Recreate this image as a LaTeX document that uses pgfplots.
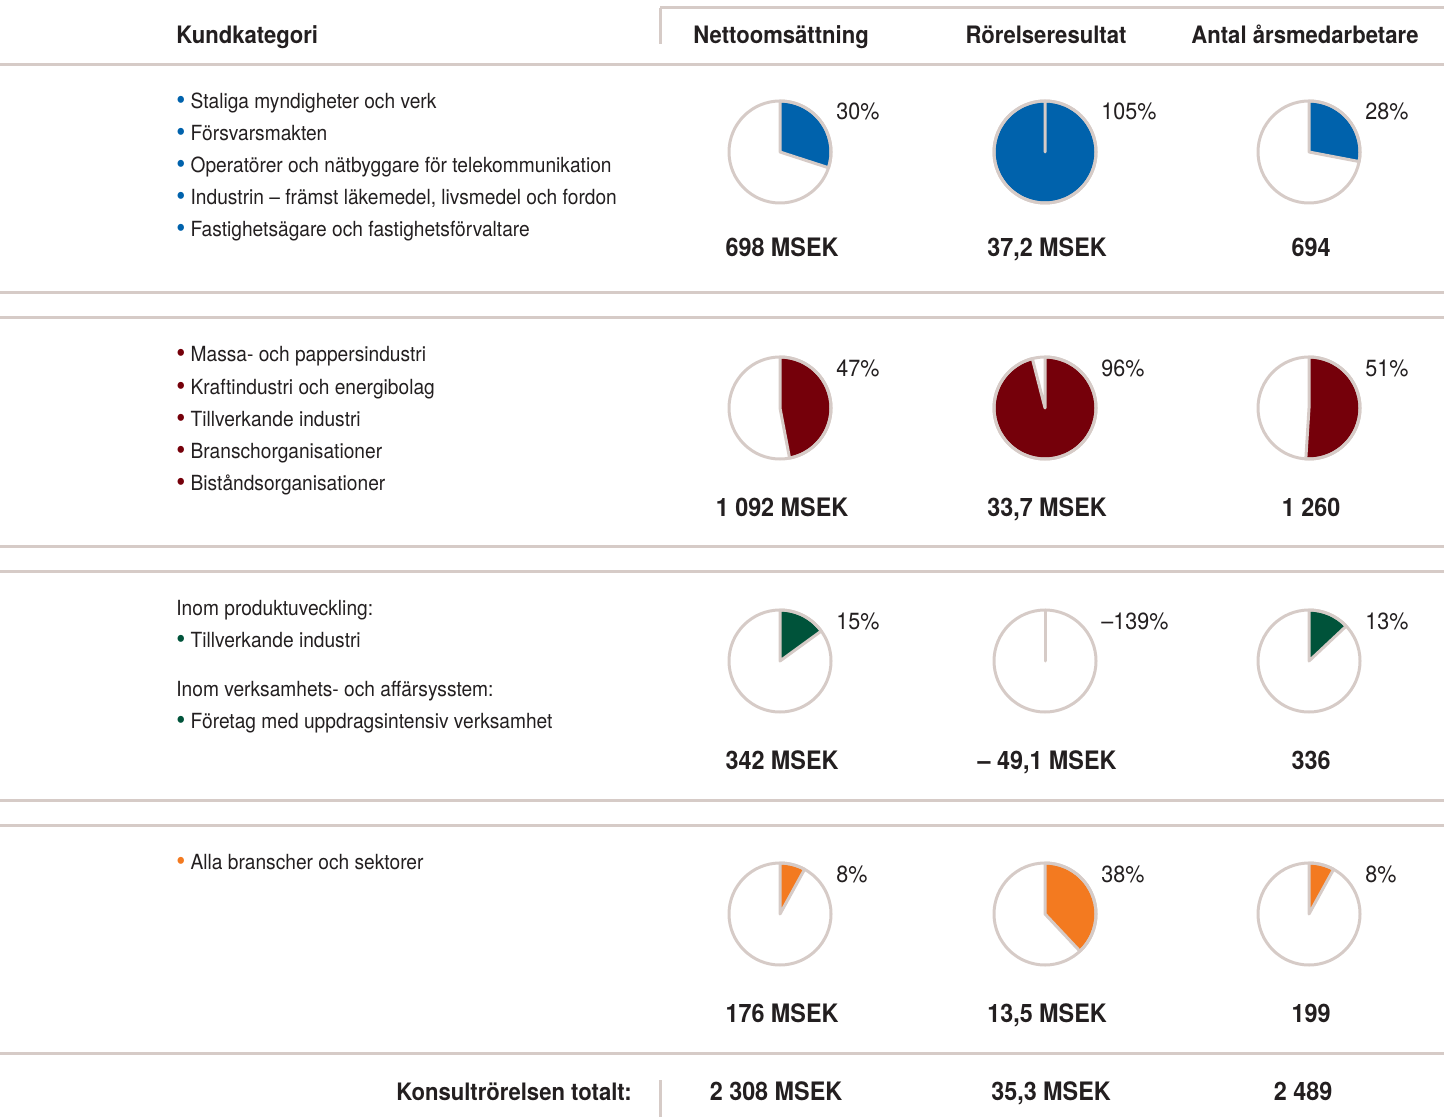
\documentclass[border=0pt]{standalone}
\usepackage{pgfplots}
\pgfplotsset{compat=1.18}
\usepackage{fontspec}
\setmainfont{TeX Gyre Heros}[FakeStretch=0.92]
\definecolor{cblue}{HTML}{0062AC}
\definecolor{cred}{HTML}{75000A}
\definecolor{cgreen}{HTML}{00533A}
\definecolor{corange}{HTML}{F37A20}
\definecolor{cline}{HTML}{D6CBC7}
\definecolor{ctext}{HTML}{231F20}
\def\R{25.5pt}
\newcommand{\txt}{\fontsize{10.42}{12}\selectfont}
\newcommand{\bld}{\fontsize{12}{14}\selectfont\bfseries}
\newcommand{\vbld}{\fontsize{12.7}{14}\selectfont\bfseries}
\newcommand{\pct}{\fontsize{11.7}{13}\selectfont}
\newcommand{\bul}[1]{\raisebox{-0.5pt}{\fontsize{14}{14}\selectfont\textcolor{#1}{•}}\hspace{2.6pt}}
% cx, cy, fraction, colour, pct label, value label, value baseline
\newcommand{\pie}[7]{%
  \fill[#4] (axis cs:#1,#2) -- ++(0pt,\R) arc[start angle=90, delta angle=-360*#3, radius=\R] -- cycle;
  \draw[cline, line width=1.5pt, line join=round] (axis cs:#1,#2) -- ++(0pt,\R) arc[start angle=90, delta angle=-360*#3, radius=\R] -- cycle;
  \draw[cline, line width=1.5pt] (axis cs:#1,#2) circle[radius=\R];
  \node[anchor=base west, inner sep=0pt, text=ctext, font=\pct] at (axis cs:#1+56,#2-32) {#5};
  \node[anchor=base, inner sep=0pt, text=ctext, font=\vbld] at (axis cs:#1+2,#7) {#6};
}
\begin{document}
\begin{tikzpicture}
\begin{axis}[at={(0,0)}, anchor=south west, scale only axis, width=722pt, height=558.5pt,
  xmin=0, xmax=1444, ymin=0, ymax=1117, y dir=reverse, hide axis, clip=false]
% separator lines
\addplot[cline, line width=1.5pt] coordinates {(660,8) (1444,8)};
\addplot[cline, line width=1.5pt] coordinates {(660,8) (660,44)};
\addplot[cline, line width=1.5pt] coordinates {(660,1080) (660,1117)};
\addplot[cline, line width=1.5pt] coordinates {(0,65) (1444,65)};
\addplot[cline, line width=1.5pt] coordinates {(0,293) (1444,293)};
\addplot[cline, line width=1.5pt] coordinates {(0,318) (1444,318)};
\addplot[cline, line width=1.5pt] coordinates {(0,546) (1444,546)};
\addplot[cline, line width=1.5pt] coordinates {(0,571) (1444,571)};
\addplot[cline, line width=1.5pt] coordinates {(0,800) (1444,800)};
\addplot[cline, line width=1.5pt] coordinates {(0,825) (1444,825)};
\addplot[cline, line width=1.5pt] coordinates {(0,1053) (1444,1053)};
% header
\node[anchor=base west, inner sep=0pt, text=ctext, font=\bld] at (axis cs:176,44) {Kundkategori};
\node[anchor=base, inner sep=0pt, text=ctext, font=\bld] at (axis cs:781,44) {Nettoomsättning};
\node[anchor=base, inner sep=0pt, text=ctext, font=\bld] at (axis cs:1046,44) {Rörelseresultat};
\node[anchor=base, inner sep=0pt, text=ctext, font=\bld] at (axis cs:1305,44) {Antal årsmedarbetare};
% section 1
\node[anchor=base west, inner sep=0pt, text=ctext, font=\txt] at (axis cs:176,109) {\bul{cblue}Staliga myndigheter och verk};
\node[anchor=base west, inner sep=0pt, text=ctext, font=\txt] at (axis cs:176,141) {\bul{cblue}Försvarsmakten};
\node[anchor=base west, inner sep=0pt, text=ctext, font=\txt] at (axis cs:176,173) {\bul{cblue}Operatörer och nätbyggare för telekommunikation};
\node[anchor=base west, inner sep=0pt, text=ctext, font=\txt] at (axis cs:176,205) {\bul{cblue}Industrin – främst läkemedel, livsmedel och fordon};
\node[anchor=base west, inner sep=0pt, text=ctext, font=\txt] at (axis cs:176,237) {\bul{cblue}Fastighetsägare och fastighetsförvaltare};
\pie{780}{152}{0.30}{cblue}{30\%}{698 MSEK}{257}
\pie{1045}{152}{1}{cblue}{105\%}{37,2 MSEK}{257}
\pie{1309}{152}{0.28}{cblue}{28\%}{694}{257}
% section 2
\node[anchor=base west, inner sep=0pt, text=ctext, font=\txt] at (axis cs:176,362) {\bul{cred}Massa- och pappersindustri};
\node[anchor=base west, inner sep=0pt, text=ctext, font=\txt] at (axis cs:176,394) {\bul{cred}Kraftindustri och energibolag};
\node[anchor=base west, inner sep=0pt, text=ctext, font=\txt] at (axis cs:176,426) {\bul{cred}Tillverkande industri};
\node[anchor=base west, inner sep=0pt, text=ctext, font=\txt] at (axis cs:176,458) {\bul{cred}Branschorganisationer};
\node[anchor=base west, inner sep=0pt, text=ctext, font=\txt] at (axis cs:176,490) {\bul{cred}Biståndsorganisationer};
\pie{780}{408}{0.47}{cred}{47\%}{1 092 MSEK}{516}
\pie{1045}{408}{0.96}{cred}{96\%}{33,7 MSEK}{516}
\pie{1309}{408}{0.51}{cred}{51\%}{1 260}{516}
% section 3
\node[anchor=base west, inner sep=0pt, text=ctext, font=\txt] at (axis cs:176,615) {Inom produktuveckling:};
\node[anchor=base west, inner sep=0pt, text=ctext, font=\txt] at (axis cs:176,647) {\bul{cgreen}Tillverkande industri};
\node[anchor=base west, inner sep=0pt, text=ctext, font=\txt] at (axis cs:176,696) {Inom verksamhets- och affärsysstem:};
\node[anchor=base west, inner sep=0pt, text=ctext, font=\txt] at (axis cs:176,728) {\bul{cgreen}Företag med uppdragsintensiv verksamhet};
\pie{780}{661}{0.15}{cgreen}{15\%}{342 MSEK}{769}
\pie{1045}{661}{0}{cgreen}{–139\%}{– 49,1 MSEK}{769}
\pie{1309}{661}{0.13}{cgreen}{13\%}{336}{769}
% section 4
\node[anchor=base west, inner sep=0pt, text=ctext, font=\txt] at (axis cs:176,869) {\bul{corange}Alla branscher och sektorer};
\pie{780}{914}{0.08}{corange}{8\%}{176 MSEK}{1022}
\pie{1045}{914}{0.38}{corange}{38\%}{13,5 MSEK}{1022}
\pie{1309}{914}{0.08}{corange}{8\%}{199}{1022}
% totals
\node[anchor=base east, inner sep=0pt, text=ctext, font=\bld] at (axis cs:632,1100) {Konsultrörelsen totalt:};
\node[anchor=base, inner sep=0pt, text=ctext, font=\vbld] at (axis cs:776,1100) {2 308 MSEK};
\node[anchor=base, inner sep=0pt, text=ctext, font=\vbld] at (axis cs:1051,1100) {35,3 MSEK};
\node[anchor=base, inner sep=0pt, text=ctext, font=\vbld] at (axis cs:1303,1100) {2 489};
\end{axis}
\pgfresetboundingbox
\path[use as bounding box] (current axis.south west) rectangle (current axis.north east);
\end{tikzpicture}
\end{document}
